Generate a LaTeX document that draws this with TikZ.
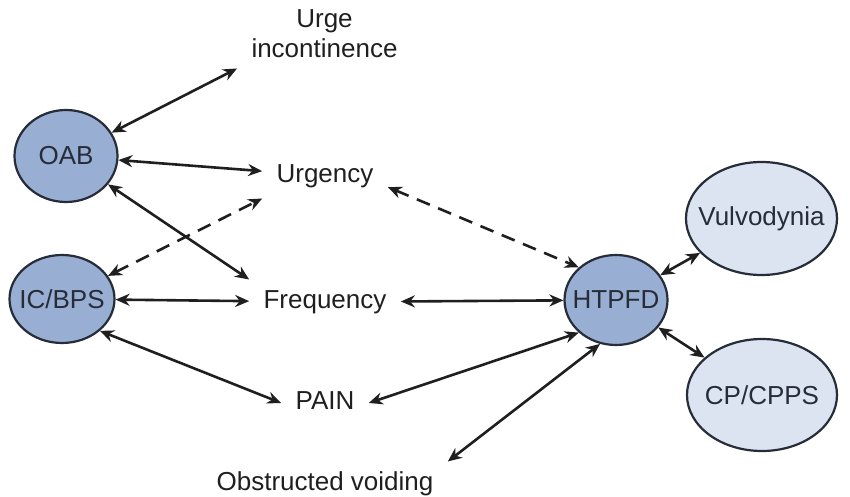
\documentclass[tikz,border=0pt]{standalone}
\usepackage{fontspec}
\setmainfont{Liberation Sans}
\usetikzlibrary{shapes.geometric,arrows.meta}

\definecolor{rimgray}{RGB}{38,44,56}
\definecolor{coreblue}{RGB}{152,174,211}
\definecolor{paleblue}{RGB}{220,228,242}

\tikzset{
  bubble/.style={ellipse, draw=rimgray, line width=1.1pt, inner xsep=-12pt, inner ysep=0pt, text=rimgray},
  core/.style={bubble, fill=coreblue},
  side/.style={bubble, fill=paleblue},
  term/.style={inner xsep=7pt, inner ysep=5pt, text=black!88},
  word/.style={term, text height=9.4pt, text depth=2.7pt},
  link/.style={{Stealth[length=7pt,width=6pt]}-{Stealth[length=7pt,width=6pt]}, line width=1.3pt, draw=black!88},
  hint/.style={link, dash pattern=on 7pt off 4.5pt}
}

\begin{document}
\begin{tikzpicture}[x=0.5pt, y=-0.5pt, font=\fontsize{13}{15}\selectfont]
    \useasboundingbox (0,0) rectangle (850,497);
    % Conditions
    \node[core, minimum width=51.5pt, minimum height=46pt] (oab) at (66,156) {OAB};
    \node[core, minimum width=52.5pt, minimum height=44pt] (icbps) at (62,299) {IC/BPS};
    \node[core, minimum width=51.5pt, minimum height=45pt] (htpfd) at (616,300) {HTPFD};
    \node[side, minimum width=75.5pt, minimum height=56.5pt] (vulvo) at (761.5,218.5) {Vulvodynia};
    \node[side, minimum width=75pt, minimum height=56pt] (cpps) at (762,395) {CP/CPPS};
    % Symptoms
    \node[term, align=center] (urge) at (324.5,34) {Urge\\incontinence};
    \node[word] (urgency) at (325,176) {Urgency};
    \node[word] (freq) at (325,302) {Frequency};
    \node[word] (pain) at (325,403) {PAIN};
    \node[word] (obst) at (325,484) {Obstructed voiding};
    % OAB links
    \draw[link] (oab) -- (urge.south west);
    \draw[link] (oab) -- (urgency);
    \draw[link] (oab) -- (freq.north west);
    % IC/BPS links
    \draw[hint] (icbps) -- (urgency.south west);
    \draw[link] (icbps) -- (freq);
    \draw[link] (icbps.south east) -- (pain.west);
    % HTPFD links
    \draw[hint] (urgency.-10) -- (htpfd.north west);
    \draw[link] (freq) -- (htpfd);
    \draw[link] (pain.east) -- (htpfd.south west);
    \draw[link] (obst.north east) -- (htpfd.-110);
    \draw[link] (htpfd) -- (vulvo);
    \draw[link] (htpfd) -- (cpps);
\end{tikzpicture}
\end{document}
